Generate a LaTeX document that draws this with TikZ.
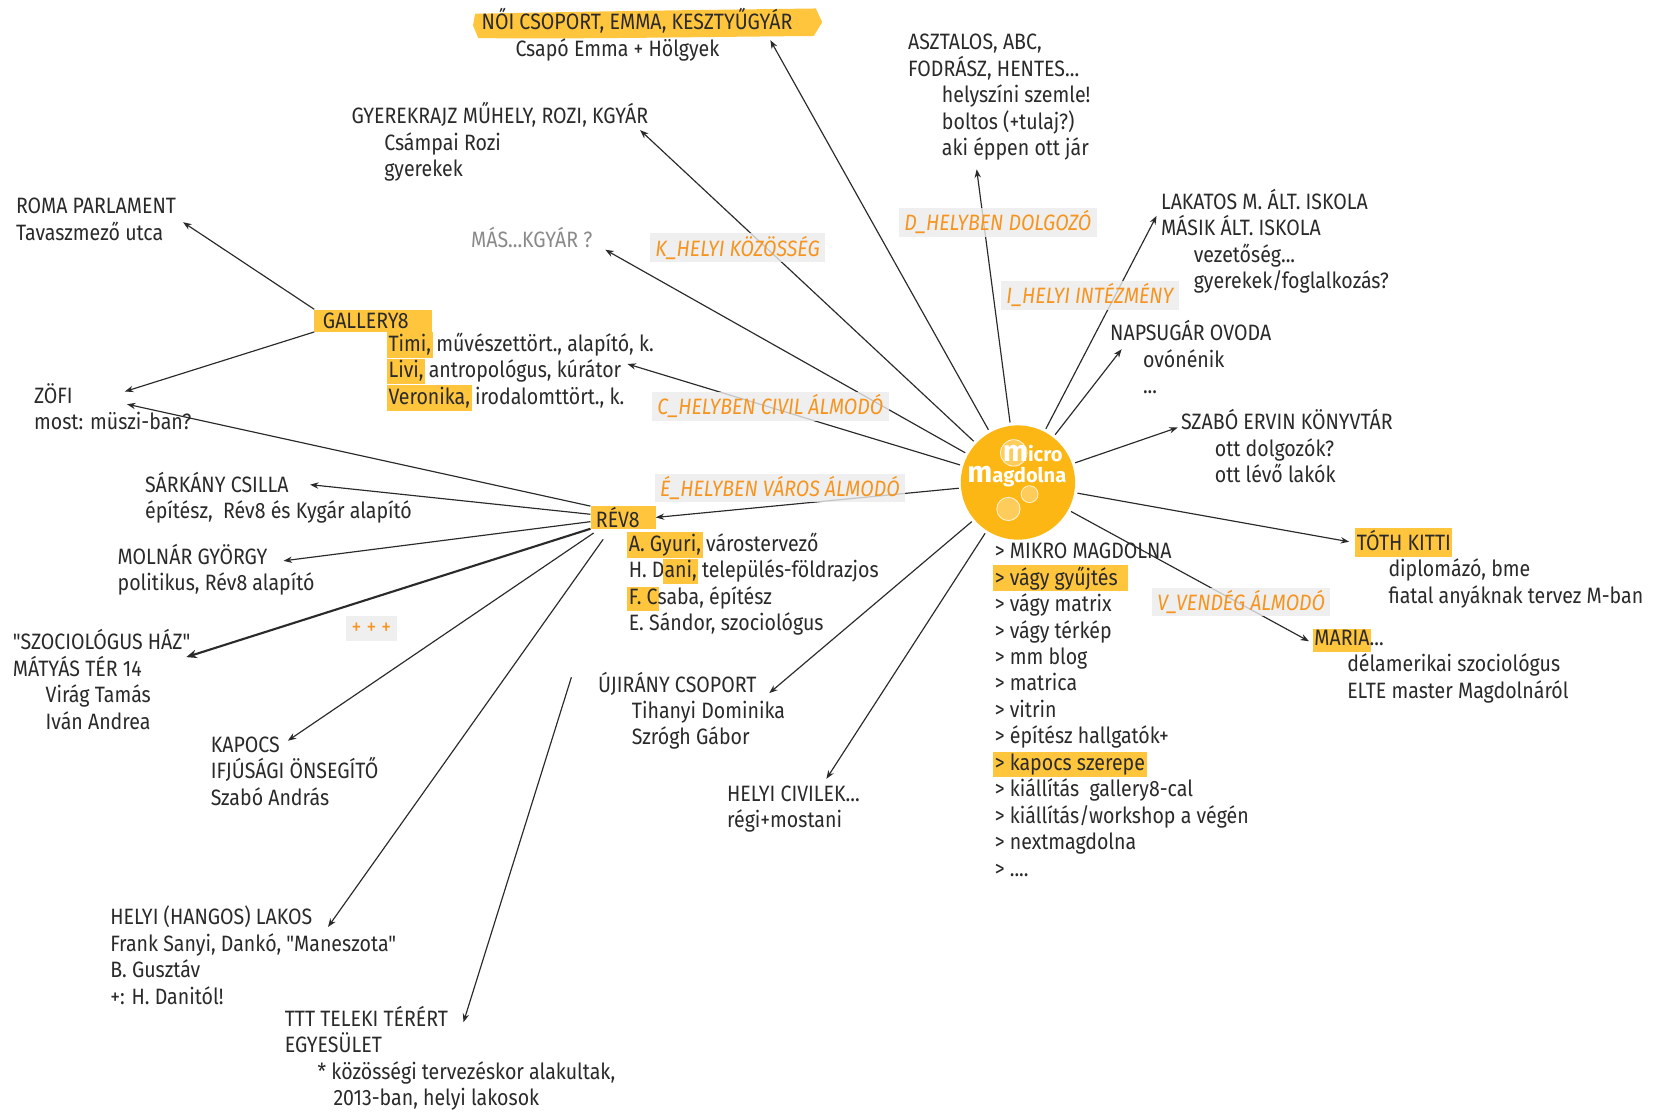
\documentclass[tikz,border=0pt]{standalone}
\usepackage{fontspec}
\setmainfont{Fira Sans}[Ligatures=TeXOff,FakeStretch=0.88]
\newfontfamily\logofont{Fira Sans}[Ligatures=TeXOff]
\usetikzlibrary{arrows.meta,calc}
\definecolor{mmy}{HTML}{FDB714}
\definecolor{hly}{HTML}{FFC53D}
\definecolor{orl}{HTML}{F7941D}
\definecolor{ink}{HTML}{2A2A2A}
\definecolor{lbg}{HTML}{EBEBEB}
\definecolor{grt}{HTML}{8A8A8A}
\newcommand\hl[1]{{\setlength{\fboxsep}{1.5pt}\kern-1.5pt\colorbox{hly}{\vphantom{Hy}#1}\kern-1.5pt}}
\newcommand\mlines[1]{\vtop{\baselineskip=25pt\lineskiplimit=-30pt\halign{##\hfil\cr#1\crcr}}}
\begin{document}
\begin{tikzpicture}[x=1pt,y=-1pt,
  txt/.style={anchor=base west,inner sep=0pt,text=ink,font=\fontsize{21}{25}\selectfont},
  gbox/.style={anchor=west,fill=hly,text=ink,inner xsep=8pt,inner ysep=0pt,minimum height=21pt,font=\fontsize{21}{25}\selectfont},
  lbl/.style={fill=lbg,fill opacity=0.8,text opacity=1,text=orl,font=\fontsize{21}{22}\selectfont\itshape,inner xsep=5pt,inner ysep=0pt,minimum height=27pt},
  arr/.style={draw=ink,line width=1.1pt,-{Stealth[length=8pt,width=6pt]}},
  thickarr/.style={draw=ink,line width=2pt,-{Stealth[length=10pt,width=8pt]}},
  mmt/.style={inner sep=0pt,text=white,font=\logofont\bfseries\fontsize{19}{19}\selectfont}]
\fill[white] (0,0) rectangle (1565,1050);
\useasboundingbox (0,0) rectangle (1565,1050);

% centre
\node[circle,fill=mmy,minimum size=108pt,inner sep=0pt] (mm) at (962,456) {};
\fill[white,opacity=0.3] (958,428) circle[radius=12.5];
\draw[white,opacity=0.8,line width=0.8pt] (958,428) circle[radius=12.5];
\fill[white,opacity=0.3] (973,467) circle[radius=8];
\draw[white,opacity=0.8,line width=0.7pt] (973,467) circle[radius=8];
\fill[white,opacity=0.3] (953,481) circle[radius=11];
\draw[white,opacity=0.8,line width=0.8pt] (953,481) circle[radius=11];
\node[mmt] (mma) at (976,429) {{\fontsize{28}{28}\selectfont m}icro};
\node[mmt] (mmb) at (961,450) {{\fontsize{28}{28}\selectfont m}agdolna};

% brush highlight
\fill[hly] (449,13) .. controls (600,10) and (700,9) .. (771,8) -- (777,21) -- (769,34) .. controls (650,35) and (550,37) .. (452,36) -- (447,24) -- cycle;

% texts
\node[txt] (noi) at (455,28) {\mlines{NŐI CSOPORT, EMMA, KESZTYŰGYÁR\cr\hskip32pt Csapó Emma + Hölgyek}};
\node[txt] (gyer) at (332,117) {\mlines{GYEREKRAJZ MŰHELY, ROZI, KGYÁR\cr\hskip31pt Csámpai Rozi\cr\hskip31pt gyerekek}};
\node[txt] (aszt) at (858,47) {\mlines{ASZTALOS, ABC,\cr FODRÁSZ, HENTES...\cr\hskip32pt helyszíni szemle!\cr\hskip32pt boltos (+tulaj?)\cr\hskip32pt aki éppen ott jár}};
\node[txt] (roma) at (15,202) {\mlines{ROMA PARLAMENT\cr Tavaszmező utca}};
\node[txt,text=grt] (mas) at (445,234) {MÁS...KGYÁR ?};
\node[txt] (lak) at (1097,198) {\mlines{LAKATOS M. ÁLT. ISKOLA\cr MÁSIK ÁLT. ISKOLA\cr\hskip31pt vezetőség...\cr\hskip31pt gyerekek/foglalkozás?}};
\node[txt] (nap) at (1049,322) {\mlines{NAPSUGÁR OVODA\cr\hskip31pt ovónénik\cr\hskip31pt ...}};
\node[txt] (szabo) at (1116,406) {\mlines{SZABÓ ERVIN KÖNYVTÁR\cr\hskip32pt ott dolgozók?\cr\hskip32pt ott lévő lakók}};
\node[txt] (toth) at (1282,520) {\mlines{\hl{TÓTH KITTI}\cr\hskip30pt diplomázó, bme\cr\hskip30pt fiatal anyáknak tervez M-ban}};
\node[txt] (maria) at (1242,610) {\mlines{\hl{MARIA}...\cr\hskip31pt délamerikai szociológus\cr\hskip31pt ELTE master Magdolnáról}};
\node[txt] (list) at (940,528) {\mlines{> MIKRO MAGDOLNA\cr \hl{> vágy gyűjtés\hskip8pt}\cr > vágy matrix\cr > vágy térkép\cr > mm blog\cr > matrica\cr > vitrin\cr > építész hallgatók+\cr \hl{> kapocs szerepe}\cr > kiállítás\ \ gallery8-cal\cr > kiállítás/workshop a végén\cr > nextmagdolna\cr > ....}};
\node[gbox] (gal) at (297,303) {GALLERY8\hspace*{14pt}};
\node[txt] (galsub) at (367,332) {\mlines{\hl{Timi,} művészettört., alapító, k.\cr \hl{Livi,} antropológus, kúrátor\cr \hl{Veronika,} irodalomttört., k.}};
\node[txt] (zofi) at (32,381) {\mlines{ZÖFI\cr most: müszi-ban?}};
\node[gbox,inner xsep=5pt] (rev) at (558,489) {RÉV8\hspace*{10pt}};
\node[txt] (sark) at (137,465) {\mlines{SÁRKÁNY CSILLA\cr építész,\ \ Rév8 és Kygár alapító}};
\node[txt] (moln) at (111,533) {\mlines{MOLNÁR GYÖRGY\cr politikus, Rév8 alapító}};
\node[txt] (szoc) at (12,614) {\mlines{"SZOCIOLÓGUS HÁZ"\cr MÁTYÁS TÉR 14\cr\hskip31pt Virág Tamás\cr\hskip31pt Iván Andrea}};
\node[txt] (kap) at (199,711) {\mlines{KAPOCS\cr IFJÚSÁGI ÖNSEGÍTŐ\cr Szabó András}};
\node[txt] (lakos) at (104,874) {\mlines{HELYI (HANGOS) LAKOS\cr Frank Sanyi, Dankó, "Maneszota"\cr B. Gusztáv\cr +: H. Danitól!}};
\node[txt] (ttt) at (269,970) {\mlines{TTT TELEKI TÉRÉRT\cr EGYESÜLET\cr\hskip31pt * közösségi tervezéskor alakultak,\cr\hskip46pt 2013-ban, helyi lakosok}};
\node[txt] (revsub) at (594,521) {\mlines{\hl{A. Gyuri,} várostervező\cr H. D\hl{ani,} település-földrazjos\cr \hl{F. C}saba, építész\cr E. Sándor, szociológus}};
\node[txt] (uj) at (565,654) {\mlines{ÚJIRÁNY CSOPORT\cr\hskip32pt Tihanyi Dominika\cr\hskip32pt Szrógh Gábor}};
\node[txt] (civ) at (687,757) {\mlines{HELYI CIVILEK...\cr régi+mostani}};

% arrow tips
\coordinate (t-noi) at (728,38);
\coordinate (t-gyer) at (605,123);
\coordinate (t-aszt) at (923,160);
\coordinate (t-mas) at (572,236);
\coordinate (t-lak) at (1093,204);
\coordinate (t-nap) at (1060,330);
\coordinate (t-szabo) at (1113,404);
\coordinate (t-toth) at (1275,512);
\coordinate (t-maria) at (1237,606);
\coordinate (t-gal) at (593,344);
\coordinate (t-uj) at (727,655);
\coordinate (t-civ) at (781,736);
\coordinate (t-roma) at (173,210);
\coordinate (t-zofi1) at (118,370);
\coordinate (t-zofi2) at (120,382);
\coordinate (t-sark) at (293,458);
\coordinate (t-moln) at (268,530);
\coordinate (t-szoc) at (176,621);
\coordinate (t-kap) at (272,700);
\coordinate (t-lakos) at (310,876);
\coordinate (ttt-s) at (540,640);
\coordinate (t-ttt) at (438,966);

% connectors
\foreach \t in {t-noi,t-gyer,t-aszt,t-mas,t-lak,t-nap,t-szabo,t-toth,t-maria,t-gal,t-uj,t-civ}
  \draw[arr,shorten <=3pt] (mm) -- (\t);
\draw[arr,shorten <=2pt] (mm) -- (rev.east);
\draw[arr] (gal.north west) -- (t-roma);
\draw[arr] (gal.south west) -- (t-zofi1);
\draw[arr] (rev.north west) -- (t-zofi2);
\draw[arr] ($(rev.west)+(0,-3)$) -- (t-sark);
\draw[arr] ($(rev.west)+(0,4)$) -- (t-moln);
\draw[thickarr] (rev.south west) -- (t-szoc);
\draw[arr] ($(rev.south west)+(3,4)$) -- (t-kap);
\draw[arr] ($(rev.south west)+(12,10)$) -- (t-lakos);
\draw[arr] (ttt-s) -- (t-ttt);

% category labels
\node[lbl] (lK) at (697,234) {K\_HELYI KÖZÖSSÉG};
\node[lbl] (lD) at (943,210) {D\_HELYBEN DOLGOZÓ};
\node[lbl] (lI) at (1030,279) {I\_HELYI INTÉZMÉNY};
\node[lbl] (lC) at (728,384) {C\_HELYBEN CIVIL ÁLMODÓ};
\node[lbl] (lE) at (737,461) {É\_HELYBEN VÁROS ÁLMODÓ};
\node[lbl] (lV) at (1173,569) {V\_VENDÉG ÁLMODÓ};
\node[lbl,font=\fontsize{21}{22}\selectfont,minimum height=24pt] (lP) at (351,594) {+ + +};
\end{tikzpicture}
\end{document}
